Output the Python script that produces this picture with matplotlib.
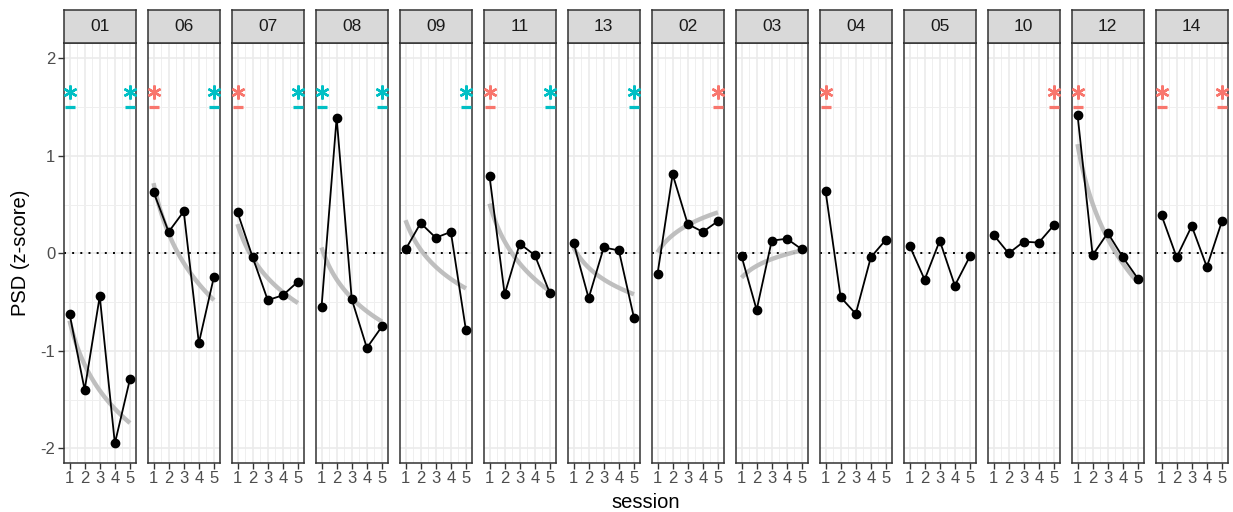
import numpy as np
import matplotlib
matplotlib.use("Agg")
import matplotlib.pyplot as plt
from matplotlib.ticker import MultipleLocator

plt.rcParams['font.family'] = ['Liberation Sans', 'DejaVu Sans']

# ---------------- data ----------------
subjects = ['01', '06', '07', '08', '09', '11', '13', '02', '03', '04', '05', '10', '12', '14']
sessions = [1, 2, 3, 4, 5]
psd = {
    '01': [-0.62, -1.40, -0.44, -1.95, -1.29],
    '06': [0.63, 0.22, 0.43, -0.92, -0.24],
    '07': [0.42, -0.04, -0.48, -0.43, -0.29],
    '08': [-0.55, 1.39, -0.47, -0.97, -0.75],
    '09': [0.04, 0.31, 0.16, 0.22, -0.79],
    '11': [0.79, -0.42, 0.10, -0.02, -0.41],
    '13': [0.11, -0.46, 0.06, 0.03, -0.66],
    '02': [-0.21, 0.81, 0.30, 0.22, 0.33],
    '03': [-0.03, -0.58, 0.13, 0.15, 0.04],
    '04': [0.64, -0.45, -0.62, -0.04, 0.14],
    '05': [0.08, -0.27, 0.13, -0.33, -0.03],
    '10': [0.19, 0.00, 0.12, 0.11, 0.29],
    '12': [1.42, -0.02, 0.21, -0.04, -0.26],
    '14': [0.39, -0.04, 0.28, -0.14, 0.33],
}
# fitted log-curve: value at session 1 and at session 5 (None = no fit drawn)
fit_ends = {
    '01': (-0.69, -1.74), '06': (0.72, -0.48), '07': (0.30, -0.51),
    '08': (0.06, -0.70), '09': (0.34, -0.36), '11': (0.51, -0.39),
    '13': (0.06, -0.42), '02': (0.01, 0.42), '03': (-0.25, 0.03),
    '04': None, '05': None, '10': None, '12': (1.12, -0.30), '14': None,
}
# significance markers at first / last session: 'b' = teal, 'r' = red, '' = none
sig_first = ['b', 'r', 'r', 'b', '', 'r', '', '', '', 'r', '', '', 'r', 'r']
sig_last = ['b', 'b', 'b', 'b', 'b', 'b', 'b', 'r', '', '', '', 'r', '', 'r']
sig_level = 1.65
dash_level = 1.50
sig_colors = {'b': '#00BFC4', 'r': '#F8766D'}

# ---------------- layout ----------------
W, H = 1233, 512
fig = plt.figure(figsize=(W / 100, H / 100), dpi=100)
left0 = 63.5
pw = 72.5
pitch = 84.0
ptop = 43.0
pbot = 462.5
strip_h = 32.7

ylim = (-2.145, 2.157)
xlim = (0.6, 5.4)

for i, s in enumerate(subjects):
    x0 = left0 + i * pitch
    ax = fig.add_axes([x0 / W, 1 - pbot / H, pw / W, (pbot - ptop) / H])
    ax.set_xlim(*xlim)
    ax.set_ylim(*ylim)
    ax.set_facecolor('white')
    ax.xaxis.set_major_locator(MultipleLocator(1))
    ax.xaxis.set_minor_locator(MultipleLocator(0.5))
    ax.yaxis.set_major_locator(MultipleLocator(1))
    ax.yaxis.set_minor_locator(MultipleLocator(0.5))
    ax.grid(which='major', color='#EBEBEB', lw=1.2, zorder=0)
    ax.grid(which='minor', color='#EFEFEF', lw=0.7, zorder=0)
    ax.set_axisbelow(True)
    for sp in ax.spines.values():
        sp.set_color('#333333')
        sp.set_linewidth(1.1)
    ax.tick_params(which='minor', length=0)
    ax.tick_params(which='major', length=4, width=1.0, color='#333333',
                   labelsize=12, labelcolor='#4D4D4D', pad=2)
    ax.set_xticks(sessions)
    ax.set_xticklabels([str(v) for v in sessions])
    if i == 0:
        ax.set_yticks([-2, -1, 0, 1, 2])
        ax.set_yticklabels(['-2', '-1', '0', '1', '2'])
    else:
        ax.tick_params(axis='y', which='both', left=False, labelleft=False)

    # zero reference line
    ax.axhline(0, color='black', lw=1.4, ls=(0, (1, 3.2)), zorder=1)

    # fitted curve
    fe = fit_ends[s]
    if fe is not None:
        a = fe[0]
        b = (fe[1] - fe[0]) / np.log(5)
        xs = np.linspace(1, 5, 100)
        ax.plot(xs, a + b * np.log(xs), color='#B8B8B8', lw=3.2, alpha=0.9,
                solid_capstyle='butt', zorder=2)

    # data
    ax.plot(sessions, psd[s], color='black', lw=1.3, marker='o', ms=6, zorder=3)

    # significance markers
    for flag, xv in ((sig_first[i], sessions[0]), (sig_last[i], sessions[-1])):
        if flag:
            c = sig_colors[flag]
            ax.plot([xv], [sig_level], marker=(6, 2, 0), ms=10, mew=1.7, color=c,
                    ls='none', zorder=4, clip_on=False)
            ax.plot([xv], [dash_level], marker='_', ms=7, mew=2.3, color=c,
                    ls='none', zorder=4, clip_on=False)

    # strip
    sax = fig.add_axes([x0 / W, 1 - ptop / H, pw / W, strip_h / H])
    sax.set_xticks([])
    sax.set_yticks([])
    sax.set_facecolor('#D9D9D9')
    for sp in sax.spines.values():
        sp.set_color('#333333')
        sp.set_linewidth(1.1)
    sax.text(0.5, 0.5, s, ha='center', va='center', fontsize=12.5, color='#1A1A1A',
             transform=sax.transAxes)

fig.text((left0 + (13 * pitch + pw) / 2) / W, 1 - 502 / H, 'session',
         ha='center', va='center', fontsize=14.5, color='black')
fig.text(21 / W, 1 - ((ptop + pbot) / 2) / H, 'PSD (z-score)', rotation=90,
         ha='center', va='center', fontsize=14.5, color='black')

fig.savefig('out.png', dpi=100)
